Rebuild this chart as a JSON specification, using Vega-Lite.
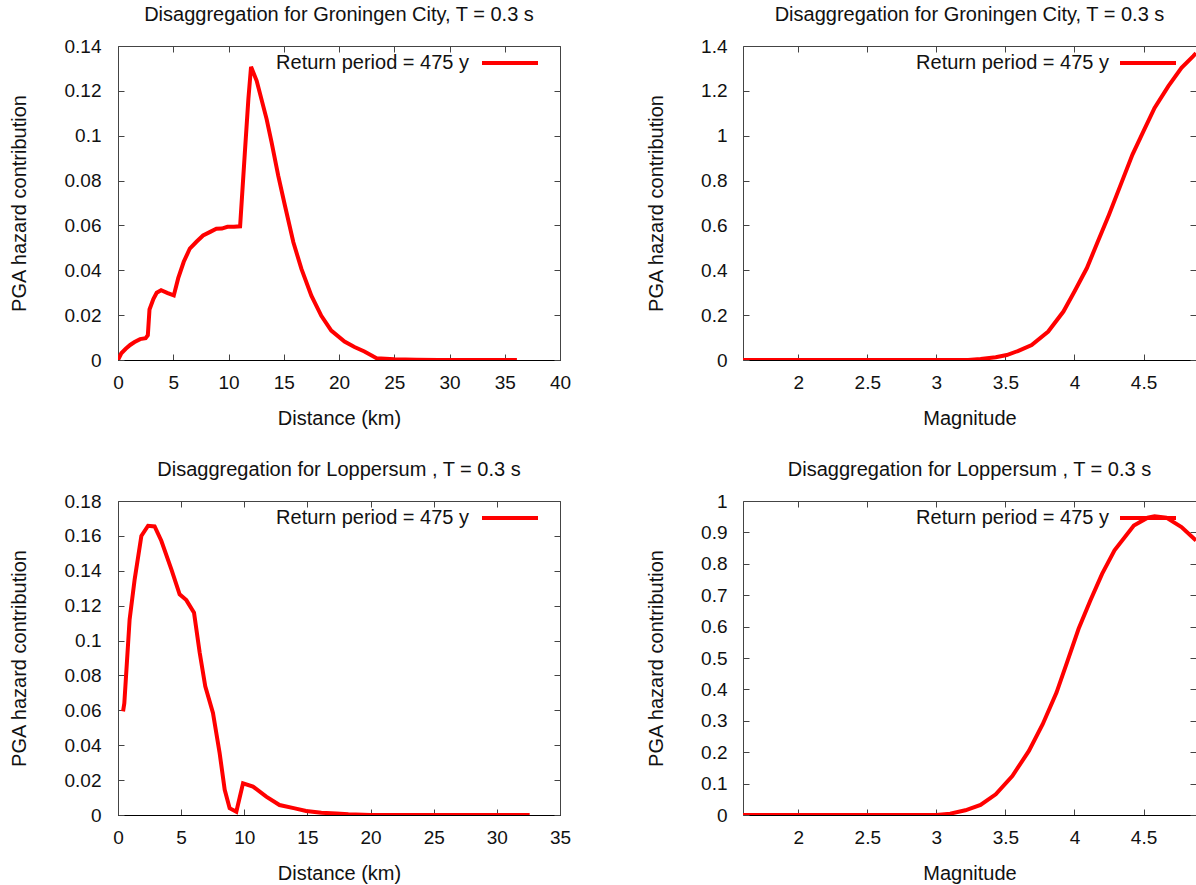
{
  "$schema": "https://vega.github.io/schema/vega-lite/v6.json",
  "padding": {"left": 8, "top": 4, "right": 0, "bottom": 0},
  "datasets": {
    "gd": [
      {"d": 0, "c": 0}, {"d": 0.3, "c": 0.003}, {"d": 0.7, "c": 0.005}, {"d": 1.1, "c": 0.0067}, {"d": 1.5, "c": 0.008},
      {"d": 2.0, "c": 0.0093}, {"d": 2.5, "c": 0.0097}, {"d": 2.7, "c": 0.011}, {"d": 2.85, "c": 0.0225}, {"d": 3.2, "c": 0.0272},
      {"d": 3.5, "c": 0.030}, {"d": 3.9, "c": 0.0311}, {"d": 4.5, "c": 0.0298}, {"d": 5.05, "c": 0.0288}, {"d": 5.45, "c": 0.0365},
      {"d": 5.95, "c": 0.0438}, {"d": 6.5, "c": 0.0497}, {"d": 7.1, "c": 0.0527}, {"d": 7.7, "c": 0.0555}, {"d": 8.3, "c": 0.057},
      {"d": 8.9, "c": 0.0585}, {"d": 9.4, "c": 0.0586}, {"d": 9.9, "c": 0.0594}, {"d": 10.5, "c": 0.0594}, {"d": 11.05, "c": 0.0596},
      {"d": 11.5, "c": 0.094}, {"d": 11.8, "c": 0.1164}, {"d": 12.04, "c": 0.1307}, {"d": 12.55, "c": 0.1245}, {"d": 13.45, "c": 0.1074},
      {"d": 13.9, "c": 0.097}, {"d": 14.5, "c": 0.0822}, {"d": 15.1, "c": 0.069}, {"d": 15.87, "c": 0.0525}, {"d": 16.6, "c": 0.0406},
      {"d": 17.5, "c": 0.0287}, {"d": 18.4, "c": 0.0197}, {"d": 19.3, "c": 0.0131}, {"d": 20.5, "c": 0.0082}, {"d": 21.4, "c": 0.0058},
      {"d": 22.3, "c": 0.0038}, {"d": 23.4, "c": 0.0008}, {"d": 25.0, "c": 0.0003}, {"d": 27.0, "c": 0.0001}, {"d": 29.0, "c": 0},
      {"d": 31.0, "c": 0}, {"d": 33.0, "c": 0}, {"d": 36.1, "c": 0}
    ],
    "gm": [
      {"m": 1.6, "c": 0}, {"m": 2.0, "c": 0}, {"m": 2.5, "c": 0}, {"m": 3.0, "c": 0}, {"m": 3.23, "c": 0},
      {"m": 3.32, "c": 0.0045}, {"m": 3.43, "c": 0.012}, {"m": 3.51, "c": 0.022}, {"m": 3.59, "c": 0.04}, {"m": 3.69, "c": 0.067},
      {"m": 3.81, "c": 0.127}, {"m": 3.92, "c": 0.216}, {"m": 4.0, "c": 0.305}, {"m": 4.09, "c": 0.41}, {"m": 4.17, "c": 0.529},
      {"m": 4.25, "c": 0.648}, {"m": 4.335, "c": 0.782}, {"m": 4.42, "c": 0.916}, {"m": 4.5, "c": 1.02}, {"m": 4.58, "c": 1.124},
      {"m": 4.68, "c": 1.221}, {"m": 4.775, "c": 1.303}, {"m": 4.86, "c": 1.355}, {"m": 4.88, "c": 1.368}
    ],
    "ld": [
      {"d": 0.4, "c": 0.0594}, {"d": 0.5, "c": 0.064}, {"d": 0.92, "c": 0.1121}, {"d": 1.32, "c": 0.1351}, {"d": 1.85, "c": 0.16},
      {"d": 2.38, "c": 0.1658}, {"d": 2.9, "c": 0.1654}, {"d": 3.43, "c": 0.1572}, {"d": 4.22, "c": 0.1409}, {"d": 4.88, "c": 0.1265},
      {"d": 5.41, "c": 0.1232}, {"d": 6.02, "c": 0.116}, {"d": 6.47, "c": 0.093}, {"d": 6.91, "c": 0.0738}, {"d": 7.52, "c": 0.0585},
      {"d": 8.05, "c": 0.0354}, {"d": 8.45, "c": 0.0144}, {"d": 8.84, "c": 0.0039}, {"d": 9.37, "c": 0.0019}, {"d": 9.9, "c": 0.0182},
      {"d": 10.69, "c": 0.0163}, {"d": 11.74, "c": 0.0105}, {"d": 12.79, "c": 0.0057}, {"d": 14.0, "c": 0.0038},
      {"d": 14.9, "c": 0.0023}, {"d": 16.1, "c": 0.0013}, {"d": 17.3, "c": 0.0008}, {"d": 18.24, "c": 0.0004}, {"d": 20.0, "c": 0},
      {"d": 22.0, "c": 0}, {"d": 24.0, "c": 0}, {"d": 26.0, "c": 0}, {"d": 28.0, "c": 0}, {"d": 30.0, "c": 0}, {"d": 32.6, "c": 0}
    ],
    "lm": [
      {"m": 1.6, "c": 0}, {"m": 2.0, "c": 0}, {"m": 2.5, "c": 0}, {"m": 3.0, "c": 0}, {"m": 3.1, "c": 0.0043},
      {"m": 3.21, "c": 0.0149}, {"m": 3.32, "c": 0.0319}, {"m": 3.43, "c": 0.066}, {"m": 3.55, "c": 0.124}, {"m": 3.67, "c": 0.204},
      {"m": 3.77, "c": 0.289}, {"m": 3.87, "c": 0.39}, {"m": 3.95, "c": 0.491}, {"m": 4.03, "c": 0.593}, {"m": 4.115, "c": 0.683},
      {"m": 4.2, "c": 0.768}, {"m": 4.29, "c": 0.843}, {"m": 4.43, "c": 0.922}, {"m": 4.53, "c": 0.947}, {"m": 4.58, "c": 0.951},
      {"m": 4.665, "c": 0.947}, {"m": 4.775, "c": 0.917}, {"m": 4.88, "c": 0.874}
    ]
  },
  "columns": 2,
  "spacing": {"row": 141, "column": 183},
  "bounds": "flush",
  "align": "each",
  "resolve": {"scale": {"color": "independent"}, "legend": {"color": "independent"}},
  "concat": [
    {
      "width": 442, "height": 314,
      "title": {"text": "Disaggregation for Groningen City, T = 0.3 s"},
      "data": {"name": "gd"},
      "view": {"stroke": "#444", "strokeWidth": 1},
      "layer": [
        {
          "mark": {"type": "line", "strokeWidth": 4, "clip": true},
          "encoding": {
            "x": {"field": "d", "type": "quantitative", "scale": {"domain": [0, 40], "nice": false, "zero": false},
                  "axis": {"orient": "bottom", "values": [0, 5, 10, 15, 20, 25, 30, 35, 40], "format": "~g", "title": "Distance (km)", "labelPadding": 19, "titlePadding": 16, "domain": true, "domainColor": "#000"}},
            "y": {"field": "c", "type": "quantitative", "scale": {"domain": [0, 0.14], "nice": false},
                  "axis": {"orient": "left", "values": [0, 0.02, 0.04, 0.06, 0.08, 0.1, 0.12, 0.14], "format": "~g", "title": "PGA hazard contribution", "labelPadding": 23, "titlePadding": 35, "domain": false}},
            "color": {"datum": "Return period = 475 y", "scale": {"range": ["#ff0000"]},
                      "legend": {"orient": "none", "legendX": 362, "legendY": -13, "title": null, "symbolType": "stroke", "symbolSize": 3136, "symbolStrokeWidth": 4, "labelAlign": "right", "labelOffset": -71, "labelFontSize": 20, "labelLimit": 400, "padding": 0}}
          }
        },
        {
          "mark": {"type": "line", "opacity": 0},
          "encoding": {
            "x": {"field": "d", "type": "quantitative", "axis": {"orient": "top", "values": [0, 5, 10, 15, 20, 25, 30, 35, 40], "labels": false, "title": null, "domain": false}},
            "y": {"field": "c", "type": "quantitative", "axis": {"orient": "right", "values": [0, 0.02, 0.04, 0.06, 0.08, 0.1, 0.12, 0.14], "labels": false, "title": null, "domain": false}}
          }
        }
      ],
      "resolve": {"axis": {"x": "independent", "y": "independent"}}
    },
    {
      "width": 453, "height": 314,
      "title": {"text": "Disaggregation for Groningen City, T = 0.3 s"},
      "data": {"name": "gm"},
      "view": {"stroke": null},
      "layer": [
        {
          "mark": {"type": "line", "strokeWidth": 4, "clip": true},
          "encoding": {
            "x": {"field": "m", "type": "quantitative", "scale": {"domain": [1.6, 4.88], "nice": false, "zero": false},
                  "axis": {"orient": "bottom", "values": [2, 2.5, 3, 3.5, 4, 4.5], "format": "~g", "title": "Magnitude", "labelPadding": 19, "titlePadding": 16, "domain": true, "domainColor": "#000"}},
            "y": {"field": "c", "type": "quantitative", "scale": {"domain": [0, 1.4], "nice": false},
                  "axis": {"orient": "left", "values": [0, 0.2, 0.4, 0.6, 0.8, 1, 1.2, 1.4], "format": "~g", "title": "PGA hazard contribution", "labelPadding": 22, "titlePadding": 34, "domain": true}},
            "color": {"datum": "Return period = 475 y", "scale": {"range": ["#ff0000"]},
                      "legend": {"orient": "none", "legendX": 375, "legendY": -13, "title": null, "symbolType": "stroke", "symbolSize": 3136, "symbolStrokeWidth": 4, "labelAlign": "right", "labelOffset": -69, "labelFontSize": 20, "labelLimit": 400, "padding": 0}}
          }
        },
        {
          "mark": {"type": "line", "opacity": 0},
          "encoding": {
            "x": {"field": "m", "type": "quantitative", "axis": {"orient": "top", "values": [2, 2.5, 3, 3.5, 4, 4.5], "labels": false, "title": null, "domain": true}},
            "y": {"field": "c", "type": "quantitative", "axis": {"orient": "right", "values": [0, 0.2, 0.4, 0.6, 0.8, 1, 1.2, 1.4], "labels": false, "title": null, "domain": false}}
          }
        }
      ],
      "resolve": {"axis": {"x": "independent", "y": "independent"}}
    },
    {
      "width": 442, "height": 314,
      "title": {"text": "Disaggregation for Loppersum , T = 0.3 s"},
      "data": {"name": "ld"},
      "view": {"stroke": "#444", "strokeWidth": 1},
      "layer": [
        {
          "mark": {"type": "line", "strokeWidth": 4, "clip": true},
          "encoding": {
            "x": {"field": "d", "type": "quantitative", "scale": {"domain": [0, 35], "nice": false, "zero": false},
                  "axis": {"orient": "bottom", "values": [0, 5, 10, 15, 20, 25, 30, 35], "format": "~g", "title": "Distance (km)", "labelPadding": 19, "titlePadding": 16, "domain": true, "domainColor": "#000"}},
            "y": {"field": "c", "type": "quantitative", "scale": {"domain": [0, 0.18], "nice": false},
                  "axis": {"orient": "left", "values": [0, 0.02, 0.04, 0.06, 0.08, 0.1, 0.12, 0.14, 0.16, 0.18], "format": "~g", "title": "PGA hazard contribution", "labelPadding": 23, "titlePadding": 35, "domain": false}},
            "color": {"datum": "Return period = 475 y", "scale": {"range": ["#ff0000"]},
                      "legend": {"orient": "none", "legendX": 362, "legendY": -13, "title": null, "symbolType": "stroke", "symbolSize": 3136, "symbolStrokeWidth": 4, "labelAlign": "right", "labelOffset": -71, "labelFontSize": 20, "labelLimit": 400, "padding": 0}}
          }
        },
        {
          "mark": {"type": "line", "opacity": 0},
          "encoding": {
            "x": {"field": "d", "type": "quantitative", "axis": {"orient": "top", "values": [0, 5, 10, 15, 20, 25, 30, 35], "labels": false, "title": null, "domain": false}},
            "y": {"field": "c", "type": "quantitative", "axis": {"orient": "right", "values": [0, 0.02, 0.04, 0.06, 0.08, 0.1, 0.12, 0.14, 0.16, 0.18], "labels": false, "title": null, "domain": false}}
          }
        }
      ],
      "resolve": {"axis": {"x": "independent", "y": "independent"}}
    },
    {
      "width": 453, "height": 314,
      "title": {"text": "Disaggregation for Loppersum , T = 0.3 s"},
      "data": {"name": "lm"},
      "view": {"stroke": null},
      "layer": [
        {
          "mark": {"type": "line", "strokeWidth": 4, "clip": true},
          "encoding": {
            "x": {"field": "m", "type": "quantitative", "scale": {"domain": [1.6, 4.88], "nice": false, "zero": false},
                  "axis": {"orient": "bottom", "values": [2, 2.5, 3, 3.5, 4, 4.5], "format": "~g", "title": "Magnitude", "labelPadding": 19, "titlePadding": 16, "domain": true, "domainColor": "#000"}},
            "y": {"field": "c", "type": "quantitative", "scale": {"domain": [0, 1], "nice": false},
                  "axis": {"orient": "left", "values": [0, 0.1, 0.2, 0.3, 0.4, 0.5, 0.6, 0.7, 0.8, 0.9, 1], "format": "~g", "title": "PGA hazard contribution", "labelPadding": 22, "titlePadding": 34, "domain": true}},
            "color": {"datum": "Return period = 475 y", "scale": {"range": ["#ff0000"]},
                      "legend": {"orient": "none", "legendX": 375, "legendY": -13, "title": null, "symbolType": "stroke", "symbolSize": 3136, "symbolStrokeWidth": 4, "labelAlign": "right", "labelOffset": -69, "labelFontSize": 20, "labelLimit": 400, "padding": 0}}
          }
        },
        {
          "mark": {"type": "line", "opacity": 0},
          "encoding": {
            "x": {"field": "m", "type": "quantitative", "axis": {"orient": "top", "values": [2, 2.5, 3, 3.5, 4, 4.5], "labels": false, "title": null, "domain": true}},
            "y": {"field": "c", "type": "quantitative", "axis": {"orient": "right", "values": [0, 0.1, 0.2, 0.3, 0.4, 0.5, 0.6, 0.7, 0.8, 0.9, 1], "labels": false, "title": null, "domain": false}}
          }
        }
      ],
      "resolve": {"axis": {"x": "independent", "y": "independent"}}
    }
  ],
  "config": {
    "font": "Liberation Sans",
    "background": "#ffffff",
    "axis": {
      "labelFont": "Liberation Sans", "labelFontSize": 19, "labelColor": "#111",
      "titleFont": "Liberation Sans", "titleFontSize": 20, "titleFontWeight": "normal", "titleColor": "#111",
      "grid": false, "tickColor": "#444", "tickSize": -6, "tickWidth": 1, "domainColor": "#444", "domainWidth": 1,
      "labelFlush": false, "labelOverlap": false
    },
    "legend": {"labelFont": "Liberation Sans", "labelColor": "#111"},
    "title": {"font": "Liberation Sans", "fontSize": 20, "fontWeight": "normal", "color": "#111", "offset": 8, "anchor": "middle"}
  }
}
